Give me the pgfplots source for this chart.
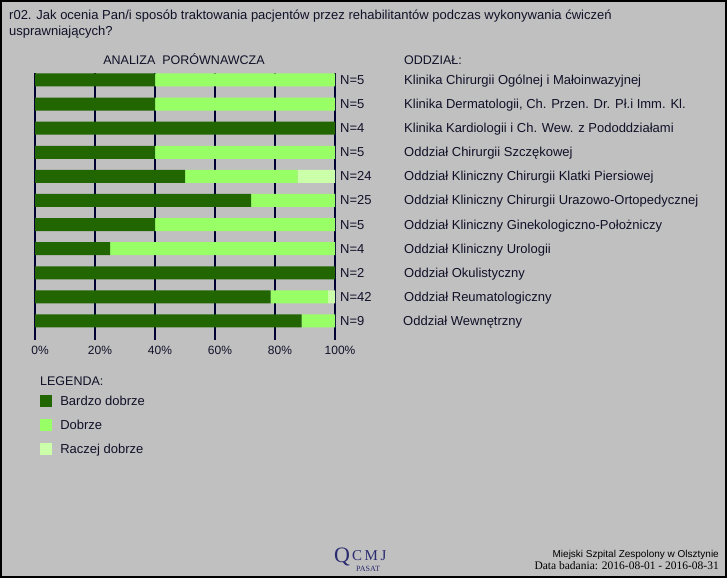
\documentclass[border=0pt]{standalone}
\usepackage{fontspec}
\setmainfont{Liberation Sans}
\newfontfamily\seriff{Liberation Serif}
\usepackage{pgfplots}
\pgfplotsset{compat=1.18}
\definecolor{bg}{HTML}{C0C0C0}
\definecolor{dgreen}{HTML}{216600}
\definecolor{lgreen}{HTML}{99FF66}
\definecolor{pgreen}{HTML}{CCFFAA}
\definecolor{navy}{HTML}{000033}
\definecolor{txt}{HTML}{101028}
\definecolor{logo}{HTML}{2A2A70}
\tikzset{lab/.style={anchor=base west, inner sep=0pt, font=\fontsize{13}{15}\selectfont, text=txt, yshift=-4.5pt}}
\begin{document}
\begin{tikzpicture}
\fill[bg] (0pt,0pt) rectangle (727pt,-578pt);
\draw[black, line width=2pt] (1pt,-1pt) rectangle (726pt,-577pt);
\node[anchor=base west, inner sep=0pt, font=\fontsize{13}{15}\selectfont, text=txt] at (9pt,-20pt) {r02. Jak ocenia Pan/i sposób traktowania pacjentów przez rehabilitantów podczas wykonywania ćwiczeń};
\node[anchor=base west, inner sep=0pt, font=\fontsize{13}{15}\selectfont, text=txt] at (9pt,-36pt) {usprawniających?};
\node[anchor=base, inner sep=0pt, font=\fontsize{12.5}{14}\selectfont, text=txt] at (184pt,-64pt) {ANALIZA\ \ PORÓWNAWCZA};
\node[anchor=base west, inner sep=0pt, font=\fontsize{12.5}{14}\selectfont, text=txt] at (404pt,-64pt) {ODDZIAŁ:};
\node[anchor=base west, inner sep=0pt, font=\fontsize{12.5}{14}\selectfont, text=txt] at (40pt,-385pt) {LEGENDA:};
\begin{axis}[
  at={(35pt,-73pt)}, anchor=north west,
  scale only axis, width=300pt, height=267pt,
  xbar stacked, bar width=13pt,
  xmin=0, xmax=100, ymin=-0.29, ymax=10.79, y dir=reverse,
  ytick=\empty,
  xtick={0,20,40,60,80,100},
  xticklabel={\pgfmathprintnumber{\tick}\%},
  /pgf/number format/assume math mode=true,
  xticklabel style={font=\fontsize{12}{14}\selectfont, text=txt, xshift=5pt, yshift=-3pt},
  xmajorgrids, grid style={navy, line width=1.3pt},
  axis line style={draw=none},
  major tick length=0pt,
  clip=false,
  legend style={at={(axis description cs:0.017,-0.206)}, anchor=north west,
    draw=none, fill=none, inner sep=0pt, row sep=12pt,
    font=\fontsize{13}{15}\selectfont, text=txt,
    nodes={inner sep=0pt, text height=10pt, text depth=2pt},
    /tikz/every odd column/.append style={column sep=8pt}},
  legend cell align=left,
  legend image code/.code={\fill[#1] (0pt,-6pt) rectangle (12pt,6pt);},
]
\addplot[fill=dgreen, draw=none] coordinates {(40,0) (40,1) (100,2) (40,3) (50,4) (72,5) (40,6) (25,7) (100,8) (78.57,9) (88.89,10)};
\addplot[fill=lgreen, draw=none] coordinates {(60,0) (60,1) (0,2) (60,3) (37.5,4) (28,5) (60,6) (75,7) (0,8) (19.05,9) (11.11,10)};
\addplot[fill=pgreen, draw=none] coordinates {(0,0) (0,1) (0,2) (0,3) (12.5,4) (0,5) (0,6) (0,7) (0,8) (2.38,9) (0,10)};
\legend{Bardzo dobrze, Dobrze, Raczej dobrze}
\node[lab, xshift=5pt] at (axis cs:100,0) {N=5};
\node[lab, xshift=5pt] at (axis cs:100,1) {N=5};
\node[lab, xshift=5pt] at (axis cs:100,2) {N=4};
\node[lab, xshift=5pt] at (axis cs:100,3) {N=5};
\node[lab, xshift=5pt] at (axis cs:100,4) {N=24};
\node[lab, xshift=5pt] at (axis cs:100,5) {N=25};
\node[lab, xshift=5pt] at (axis cs:100,6) {N=5};
\node[lab, xshift=5pt] at (axis cs:100,7) {N=4};
\node[lab, xshift=5pt] at (axis cs:100,8) {N=2};
\node[lab, xshift=5pt] at (axis cs:100,9) {N=42};
\node[lab, xshift=5pt] at (axis cs:100,10) {N=9};
\node[lab, xshift=69pt] at (axis cs:100,0) {Klinika Chirurgii Ogólnej i Małoinwazyjnej};
\node[lab, xshift=69pt] at (axis cs:100,1) {Klinika Dermatologii, Ch. Przen. Dr. Pł.i Imm. Kl.};
\node[lab, xshift=69pt] at (axis cs:100,2) {Klinika Kardiologii i Ch. Wew. z Pododdziałami};
\node[lab, xshift=69pt] at (axis cs:100,3) {Oddział Chirurgii Szczękowej};
\node[lab, xshift=69pt] at (axis cs:100,4) {Oddział Kliniczny Chirurgii Klatki Piersiowej};
\node[lab, xshift=69pt] at (axis cs:100,5) {Oddział Kliniczny Chirurgii Urazowo-Ortopedycznej};
\node[lab, xshift=69pt] at (axis cs:100,6) {Oddział Kliniczny Ginekologiczno-Położniczy};
\node[lab, xshift=69pt] at (axis cs:100,7) {Oddział Kliniczny Urologii};
\node[lab, xshift=69pt] at (axis cs:100,8) {Oddział Okulistyczny};
\node[lab, xshift=69pt] at (axis cs:100,9) {Oddział Reumatologiczny};
\node[lab, xshift=68pt] at (axis cs:100,10) {Oddział Wewnętrzny};
\end{axis}
\node[anchor=base east, inner sep=0pt, font=\fontsize{10}{12}\selectfont, text=black] at (719pt,-557pt) {Miejski Szpital Zespolony w Olsztynie};
\node[anchor=base east, inner sep=0pt, font=\seriff\fontsize{11.5}{13}\selectfont, text=black] at (719pt,-569pt) {Data badania: 2016-08-01 - 2016-08-31};
\node[anchor=base west, inner sep=0pt, font=\seriff\fontsize{22}{22}\selectfont, text=logo] at (334pt,-562pt) {Q};
\node[anchor=base west, inner sep=0pt, font=\seriff\fontsize{15}{15}\selectfont, text=logo] at (352pt,-560pt) {C\,M\,J};
\node[anchor=base west, inner sep=0pt, font=\seriff\fontsize{8}{8}\selectfont, text=logo] at (356pt,-571pt) {PASAT};
\pgfresetboundingbox
\useasboundingbox (0pt,0pt) rectangle (727pt,-578pt);
\end{tikzpicture}
\end{document}
